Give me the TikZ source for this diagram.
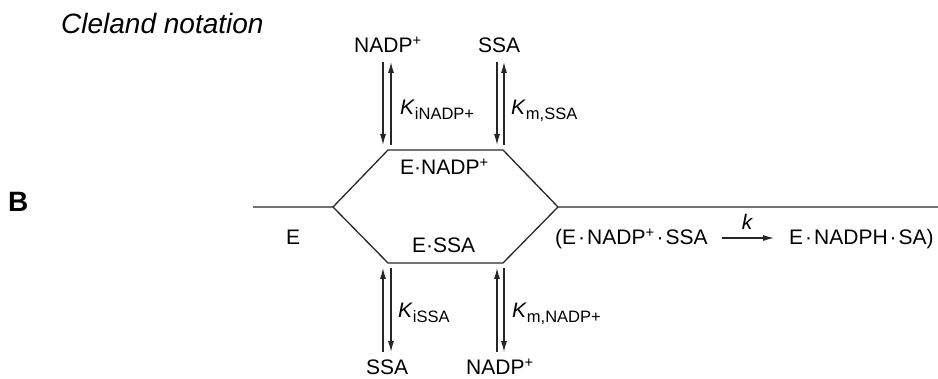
\documentclass[tikz,border=0pt]{standalone}
\usepackage{fontspec}
\setmainfont{Liberation Sans}
\usetikzlibrary{arrows.meta}
\newcommand{\subtxt}[1]{\raisebox{-4.5pt}{\fontsize{16.5}{16.5}\selectfont #1}}
\newcommand{\mdt}{\hspace{2pt}·\hspace{2pt}}
\tikzset{
  lbl/.style={inner sep=0pt, anchor=base west, font=\fontsize{21}{21}\selectfont},
  ln/.style={line width=1.3pt, black!85},
  eqarrow/.style={line width=1.2pt, black!85, -{Latex[length=11pt,width=6pt]}}
}
\begin{document}
\begin{tikzpicture}[x=1pt,y=-1pt]
\useasboundingbox (0,0) rectangle (938,379);
% title
\node[lbl, anchor=base west, font=\fontsize{28}{28}\selectfont\itshape] (title) at (61,34) {Cleland notation};
\node[lbl, font=\fontsize{28}{28}\selectfont\bfseries] (B) at (8,212) {B};
% hexagon coordinates
\coordinate (L0) at (253,207);
\coordinate (HL) at (333,207);
\coordinate (TL) at (388,150);
\coordinate (TR) at (503,150);
\coordinate (HR) at (558,207);
\coordinate (R0) at (938,207);
\coordinate (BL) at (388,263);
\coordinate (BR) at (503,263);
\draw[ln] (L0) -- (HL) -- (TL) -- (TR) -- (HR) -- (R0);
\draw[ln] (HL) -- (BL) -- (BR) -- (HR);
% top arrows
\coordinate (a1t) at (383,62); \coordinate (a1b) at (383,145);
\coordinate (a2t) at (391,62); \coordinate (a2b) at (391,145);
\coordinate (a3t) at (497,62); \coordinate (a3b) at (497,145);
\coordinate (a4t) at (504,62); \coordinate (a4b) at (504,145);
\draw[eqarrow] (a1t) -- (a1b);
\draw[eqarrow] (a2b) -- (a2t);
\draw[eqarrow] (a3t) -- (a3b);
\draw[eqarrow] (a4b) -- (a4t);
% bottom arrows
\coordinate (b1t) at (383,268); \coordinate (b1b) at (383,352);
\coordinate (b2t) at (391,268); \coordinate (b2b) at (391,352);
\coordinate (b3t) at (497,268); \coordinate (b3b) at (497,352);
\coordinate (b4t) at (504,268); \coordinate (b4b) at (504,352);
\draw[eqarrow] (b1b) -- (b1t);
\draw[eqarrow] (b2t) -- (b2b);
\draw[eqarrow] (b3b) -- (b3t);
\draw[eqarrow] (b4t) -- (b4b);
% substrate labels
\node[lbl] (nadpTop) at (354,53) {NADP\textsuperscript{+}};
\node[lbl] (ssaTop) at (478,53) {SSA};
\node[lbl] (ssaBot) at (366,375) {SSA};
\node[lbl] (nadpBot) at (466,375) {NADP\textsuperscript{+}};
% constants
\node[lbl] (k1) at (400,115) {\textit{K}\subtxt{iNADP+}};
\node[lbl] (k2) at (511,115) {\textit{K}\subtxt{m,SSA}};
\node[lbl] (k3) at (398,318) {\textit{K}\subtxt{iSSA}};
\node[lbl] (k4) at (512,318) {\textit{K}\subtxt{m,NADP+}};
% complexes
\node[lbl] (enadp) at (400,175) {E·NADP\textsuperscript{+}};
\node[lbl] (essa) at (412,253) {E·SSA};
\node[lbl] (E) at (286,245) {E};
\node[lbl] (ternary) at (555,245) {(E\mdt NADP\textsuperscript{+}\mdt SSA};
\node[lbl] (product) at (789,245) {E\mdt NADPH\mdt SA)};
\coordinate (ka) at (722,238);
\coordinate (kb) at (774,238);
\draw[eqarrow] (ka) -- (kb);
\node[lbl, anchor=base, font=\fontsize{21}{21}\selectfont\itshape] (klab) at (747,230) {k};
\end{tikzpicture}
\end{document}
